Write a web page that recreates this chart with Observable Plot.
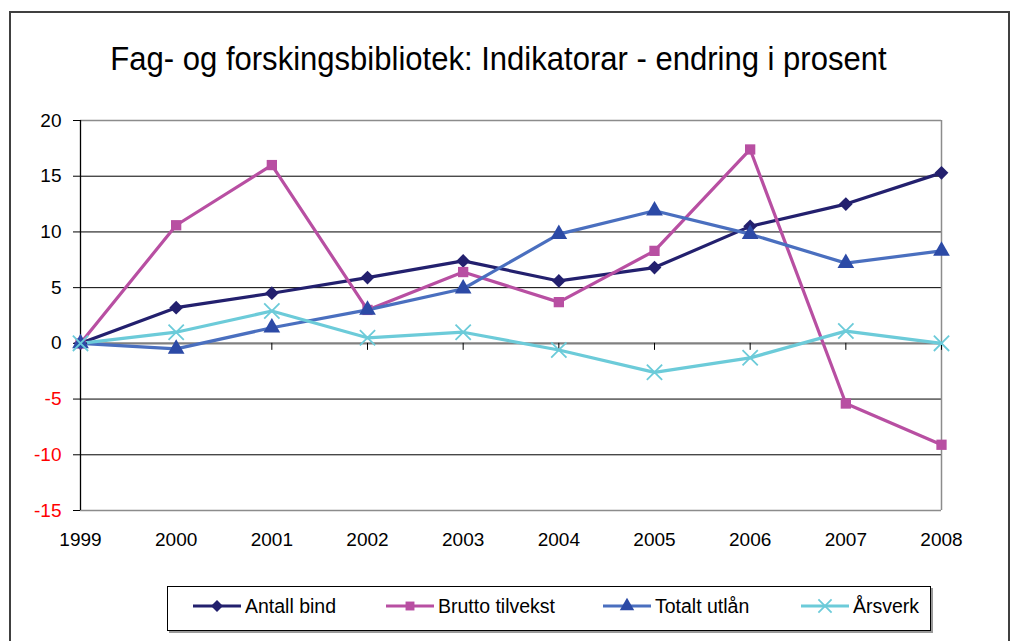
<!DOCTYPE html>
<html>
<head>
<meta charset="utf-8">
<script src="https://cdn.jsdelivr.net/npm/d3@7"></script>
<script src="https://cdn.jsdelivr.net/npm/@observablehq/plot@0.6"></script>
<style>
  html, body { margin: 0; padding: 0; background: #fff; }
  #wrap { position: relative; width: 1016px; height: 641px; overflow: hidden; font-family: "Liberation Sans", Arial, sans-serif; }
  #frame { position: absolute; left: 9px; top: 11px; width: 1001px; height: 700px; border: 2px solid #404040; box-sizing: border-box; }
  #title { position: absolute; left: 0; width: 997px; top: 41px; text-align: center; font-size: 32.5px; color: #000; white-space: nowrap; transform: scaleX(0.955); transform-origin: 498px 0; }
  #chart { position: absolute; left: 0; top: 100px; }
  #legend { position: absolute; left: 167px; top: 586px; width: 764px; height: 45px; border: 1px solid #000; box-sizing: border-box; box-shadow: 2px 2px 0 #9a9a9a; background: #fff; }
  #legend svg { position: absolute; left: 0; top: 0; }
</style>
</head>
<body>
<div id="wrap">
  <div id="frame"></div>
  <div id="title">Fag- og forskingsbibliotek: Indikatorar - endring i prosent</div>
  <div id="chart"></div>
  <div id="legend"></div>
</div>
<script>
const years = [1999, 2000, 2001, 2002, 2003, 2004, 2005, 2006, 2007, 2008];
const antallBind     = [0, 3.2, 4.5, 5.9, 7.4, 5.6, 6.8, 10.5, 12.5, 15.3];
const bruttoTilvekst = [0, 10.6, 16.0, 3.0, 6.4, 3.7, 8.3, 17.4, -5.4, -9.1];
const totaltUtlan    = [0, -0.5, 1.4, 3.0, 4.9, 9.8, 11.9, 9.8, 7.2, 8.3];
const arsverk        = [0, 1.0, 2.9, 0.5, 1.0, -0.6, -2.6, -1.3, 1.1, 0];
const seriesNames = ["Antall bind", "Brutto tilvekst", "Totalt utlån", "Årsverk"];
const yTicks = [-15, -10, -5, 0, 5, 10, 15, 20];

const seriesValues = [antallBind, bruttoTilvekst, totaltUtlan, arsverk];
const styles = [
  {line: "#23206e", mark: "#23206e", symbol: "diamond2", r: 6.2, filled: true},
  {line: "#b84fa2", mark: "#b84fa2", symbol: "square", r: 5.8, filled: true},
  {line: "#4a6fbf", mark: "#2c4aa6", symbol: "triangle", r: 6.2, filled: true},
  {line: "#6ccbd9", mark: "#6ccbd9", symbol: "times", r: 7, filled: false}
];

const series = seriesNames.map((name, i) => ({
  name,
  style: styles[i],
  data: years.map((year, j) => ({year, value: seriesValues[i][j], series: name}))
}));

const W = 1016, H = 460;
const FS = 19;
const marks = [
  Plot.ruleY(yTicks.filter(d => d !== 0 && d !== yTicks[0] && d !== yTicks[yTicks.length - 1]), {stroke: "#000", strokeWidth: 1}),
  Plot.ruleY([yTicks[0], yTicks[yTicks.length - 1]], {stroke: "#8c8c8c", strokeWidth: 1.5}),
  Plot.ruleX([years[years.length - 1]], {stroke: "#8c8c8c", strokeWidth: 1.5}),
  Plot.ruleY([0], {stroke: "#808080", strokeWidth: 2.2}),
  Plot.ruleX([years[0]], {stroke: "#000", strokeWidth: 1.3}),
  Plot.ruleY(yTicks, {x1: years[0], x2: years[0], insetLeft: -7, stroke: "#000", strokeWidth: 1}),
  Plot.ruleX(years, {x: d => d, y1: 0, y2: 0, insetBottom: -7, stroke: "#000", strokeWidth: 1}),
  Plot.text(yTicks.filter(d => d >= 0), {x: years[0], y: d => d, text: d => String(d), textAnchor: "end", dx: -19, fill: "#000", fontSize: FS}),
  Plot.text(yTicks.filter(d => d < 0), {x: years[0], y: d => d, text: d => String(d), textAnchor: "end", dx: -19, fill: "#ff0000", fontSize: FS}),
  Plot.text(years, {x: d => d, frameAnchor: "bottom", text: d => String(d), dy: 35, fill: "#000", fontSize: FS})
];
for (const s of series) {
  marks.push(Plot.line(s.data, {x: "year", y: "value", stroke: s.style.line, strokeWidth: 3.2, strokeLinejoin: "miter"}));
}
for (const s of series) {
  if (s.style.filled) {
    marks.push(Plot.dot(s.data, {x: "year", y: "value", symbol: s.style.symbol, r: s.style.r, fill: s.style.mark, stroke: "none"}));
  } else {
    marks.push(Plot.dot(s.data, {x: "year", y: "value", symbol: s.style.symbol, r: s.style.r, stroke: s.style.mark, strokeWidth: 1.8, fill: "none"}));
  }
}

const chart = Plot.plot({
  width: W,
  height: H,
  marginLeft: 80,
  marginRight: 75,
  marginTop: 20,
  marginBottom: 50,
  style: {fontFamily: "Liberation Sans, Arial, sans-serif", background: "transparent", overflow: "visible"},
  x: {type: "linear", domain: [years[0], years[years.length - 1]], axis: null},
  y: {domain: [yTicks[0], yTicks[yTicks.length - 1]], axis: null},
  marks
});
document.getElementById("chart").appendChild(chart);

// Legend
const legendItems = [192, 385, 602, 800];
const leg = d3.select("#legend").append("svg").attr("width", 764).attr("height", 45);
const symMap = {diamond2: d3.symbolDiamond2, square: d3.symbolSquare, triangle: d3.symbolTriangle, times: d3.symbolTimes};
series.forEach((s, i) => {
  const x0 = legendItems[i] - 167;
  const g = leg.append("g").attr("transform", `translate(${x0},19)`);
  g.append("line").attr("x1", 0).attr("x2", 48).attr("stroke", s.style.line).attr("stroke-width", 3.2);
  const size = s.style.r * s.style.r * Math.PI * 0.75;
  const p = g.append("path").attr("transform", "translate(24,0)").attr("d", d3.symbol(symMap[s.style.symbol], size)());
  if (s.style.filled) p.attr("fill", s.style.mark);
  else p.attr("fill", "none").attr("stroke", s.style.mark).attr("stroke-width", 1.8);
  g.append("text").attr("x", 52).attr("y", 0).attr("dy", "0.36em").attr("font-size", 19.5).attr("font-family", "Liberation Sans, Arial, sans-serif").text(s.name);
});
</script>
</body>
</html>
